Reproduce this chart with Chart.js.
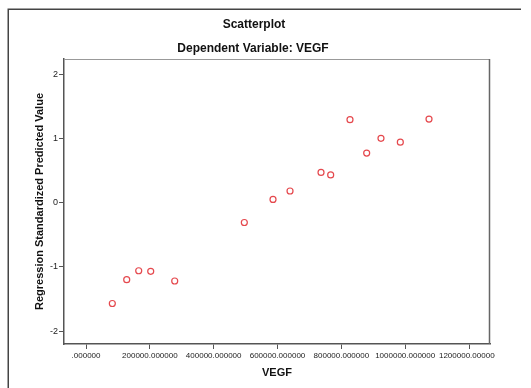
<!DOCTYPE html>
<html>
<head>
<meta charset="utf-8">
<script src="https://cdn.jsdelivr.net/npm/chart.js@4.4.1/dist/chart.umd.min.js"></script>
<style>
html,body{margin:0;padding:0;background:#fff;}
#wrap{position:relative;width:531px;height:388px;}
</style>
</head>
<body>
<div id="wrap"><canvas id="c" width="531" height="388"></canvas></div>
<script>
const titleText = "Scatterplot";
const subtitleText = "Dependent Variable: VEGF";
const xTitle = "VEGF";
const yTitle = "Regression Standardized Predicted Value";

const vegf = [82400, 127500, 165100, 202700, 277900, 496000, 585900, 639200, 736300, 766600, 827100, 879400, 924200, 984800, 1074700];
const predicted = [-1.57, -1.20, -1.06, -1.07, -1.22, -0.31, 0.05, 0.18, 0.47, 0.43, 1.29, 0.77, 1.00, 0.94, 1.30];

const xTicks = [0, 200000, 400000, 600000, 800000, 1000000, 1200000];
const yTicks = [-2, -1, 0, 1, 2];

const points = vegf.map((v, i) => ({x: v, y: predicted[i]}));

const decor = {
  id: 'decor',
  beforeDraw(chart) {
    const ctx = chart.ctx;
    ctx.save();
    ctx.fillStyle = '#fff';
    ctx.fillRect(0, 0, chart.width, chart.height);
    // outer frame
    ctx.strokeStyle = '#444';
    ctx.lineWidth = 1.5;
    ctx.beginPath();
    ctx.moveTo(521, 9.25);
    ctx.lineTo(8.25, 9.25);
    ctx.lineTo(8.25, 388);
    ctx.stroke();
    // titles
    ctx.fillStyle = '#111';
    ctx.textAlign = 'center';
    ctx.textBaseline = 'middle';
    ctx.font = 'bold 12px "Liberation Sans", Arial, sans-serif';
    ctx.fillText(titleText, 254, 25);
    ctx.fillText(subtitleText, 253, 49);
    ctx.restore();
    ctx.save();
    ctx.beginPath();
    ctx.rect(0, 0, 495, 388);
    ctx.clip();
  },
  afterDraw(chart) {
    const ctx = chart.ctx;
    ctx.restore();
    const a = chart.chartArea;
    ctx.save();
    ctx.strokeStyle = '#999';
    ctx.lineWidth = 1;
    ctx.beginPath();
    ctx.moveTo(a.left, a.top + 0.5);
    ctx.lineTo(a.right - 0.5, a.top + 0.5);
    ctx.stroke();
    ctx.strokeStyle = '#666';
    ctx.lineWidth = 1.5;
    ctx.beginPath();
    ctx.moveTo(a.right - 0.5, a.top);
    ctx.lineTo(a.right - 0.5, a.bottom);
    ctx.stroke();
    ctx.restore();
  }
};

new Chart(document.getElementById('c'), {
  type: 'scatter',
  data: {
    datasets: [{
      data: points,
      pointStyle: 'circle',
      pointRadius: 3,
      pointBorderWidth: 1.2,
      pointBorderColor: '#e5484d',
      pointBackgroundColor: 'rgba(0,0,0,0)',
      pointHoverRadius: 3
    }]
  },
  options: {
    responsive: false,
    animation: false,
    devicePixelRatio: 1,
    layout: {padding: {left: 33, right: 41, top: 59, bottom: 0}},
    plugins: {legend: {display: false}, tooltip: {enabled: false}, title: {display: false}},
    scales: {
      x: {
        type: 'linear',
        min: -69000,
        max: 1265800,
        afterBuildTicks(s) { s.ticks = xTicks.map(v => ({value: v})); },
        afterFit(s) { s.height = 44; },
        grid: {drawOnChartArea: false, drawTicks: true, tickLength: 5, color: '#555', lineWidth: 1},
        border: {display: true, color: '#555', width: 1.5},
        ticks: {
          autoSkip: false, maxRotation: 0, minRotation: 0, padding: 2,
          color: '#222',
          font: {family: '"Liberation Sans", Arial, sans-serif', size: 8},
          callback: v => (v === 0 ? '' : String(v)) + '.000000'
        },
        title: {
          display: true, text: xTitle, color: '#111',
          font: {family: '"Liberation Sans", Arial, sans-serif', size: 11, weight: 'bold'},
          padding: {top: 0, bottom: 8}
        }
      },
      y: {
        type: 'linear',
        min: -2.2,
        max: 2.234,
        afterBuildTicks(s) { s.ticks = yTicks.map(v => ({value: v})); },
        afterFit(s) { s.width = 31; },
        grid: {drawOnChartArea: false, drawTicks: true, tickLength: 5, color: '#555', lineWidth: 1},
        border: {display: true, color: '#555', width: 1.5},
        ticks: {
          color: '#222', padding: 1,
          font: {family: '"Liberation Sans", Arial, sans-serif', size: 9},
          callback: v => String(v)
        },
        title: {
          display: true, text: yTitle, color: '#111',
          font: {family: '"Liberation Sans", Arial, sans-serif', size: 11, weight: 'bold'},
          padding: {top: 0, bottom: 0}
        }
      }
    }
  },
  plugins: [decor]
});
</script>
</body>
</html>
